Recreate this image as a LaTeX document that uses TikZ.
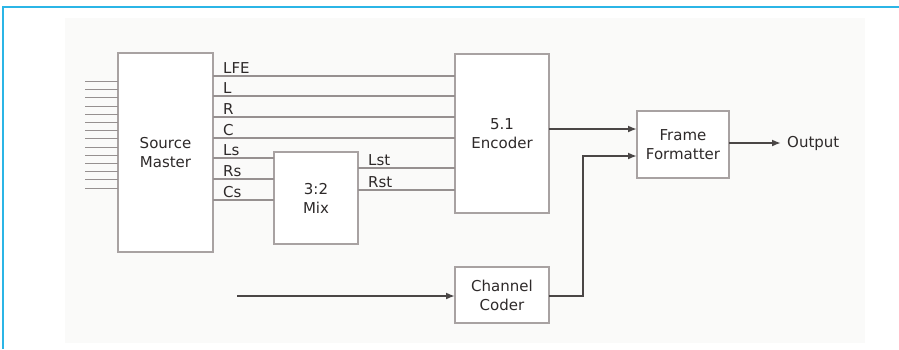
\documentclass[tikz,border=0pt]{standalone}
\usepackage{fontspec}
\setmainfont{DejaVu Sans}
\usetikzlibrary{arrows.meta}
\definecolor{frameblue}{HTML}{2BB5E6}
\definecolor{panel}{HTML}{FAFAF9}
\definecolor{boxgray}{HTML}{A8A2A2}
\definecolor{siggray}{HTML}{969090}
\definecolor{arrgray}{HTML}{4A4646}
\definecolor{txt}{HTML}{2E2A2A}
\tikzset{
  blk/.style={draw=boxgray, line width=1.3pt, fill=white, inner sep=0pt, outer sep=0pt,
    align=center, text=txt, font=\fontsize{15}{19}\selectfont},
  sig/.style={draw=siggray, line width=1.3pt},
  arr/.style={draw=arrgray, line width=2pt, -{Latex[length=9pt,width=7pt]}},
  lbl/.style={text=txt, font=\fontsize{15}{17}\selectfont, inner sep=0pt, anchor=base west},
}
\begin{document}
\begin{tikzpicture}[x=1pt,y=-1pt]
\useasboundingbox (0,0) rectangle (899,349);
\fill[white] (0,0) rectangle (899,349);
\fill[panel] (65,18) rectangle (865,343);
\draw[frameblue, line width=2pt] (3,349) -- (3,7) -- (899,7);

% blocks
\node[blk, minimum width=95pt, minimum height=199pt] (src) at (165.5,152.5) {Source\\Master};
\node[blk, minimum width=84pt, minimum height=92pt] (mix) at (316,198) {3:2\\Mix};
\node[blk, minimum width=94pt, minimum height=159pt] (enc) at (502,133.5) {5.1\\Encoder};
\node[blk, minimum width=92pt, minimum height=67pt] (ff) at (683,144.5) {Frame\\Formatter};
\node[blk, minimum width=94pt, minimum height=56pt] (cc) at (502,295) {Channel\\Coder};

% input bundle to source master
\foreach \y in {81.5,89.7,97.9,106.1,114.3,122.5,130.7,138.9,147.1,155.3,163.5,171.7,179.9,188.1}
  \draw[sig, line width=1pt] (85,\y) -- (src.west |- 0,\y);

% source master outputs
\foreach \y/\t/\n in {76/LFE/lfe,96/L/l,117/R/r,138/C/c}{
  \draw[sig] (src.east |- 0,\y) -- (enc.west |- 0,\y);
  \node[lbl] (lbl\n) at (223,\y-3) {\t};
}
\foreach \y/\t/\n in {158/Ls/ls,179/Rs/rs,200/Cs/cs}{
  \draw[sig] (src.east |- 0,\y) -- (mix.west |- 0,\y);
  \node[lbl] (lbl\n) at (223,\y-3) {\t};
}
\foreach \y/\t/\n in {168/Lst/lst,190/Rst/rst}{
  \draw[sig] (mix.east |- 0,\y) -- (enc.west |- 0,\y);
  \node[lbl] (lbl\n) at (368,\y-3) {\t};
}

% arrows
\draw[arr] (enc.east |- 0,129) -- (ff.west |- 0,129);
\coordinate (ccin) at (237,296);
\draw[arr] (ccin) -- (cc.west |- ccin);
\draw[arr] (cc.east |- 0,296) -- (583,296) -- (583,156) -- (ff.west |- 0,156);
\node[text=txt, font=\fontsize{15}{17}\selectfont, inner sep=0pt, anchor=west] (out) at (787,143) {Output};
\draw[arr] (ff.east |- out.west) -- ([xshift=-6pt]out.west);
\end{tikzpicture}
\end{document}
